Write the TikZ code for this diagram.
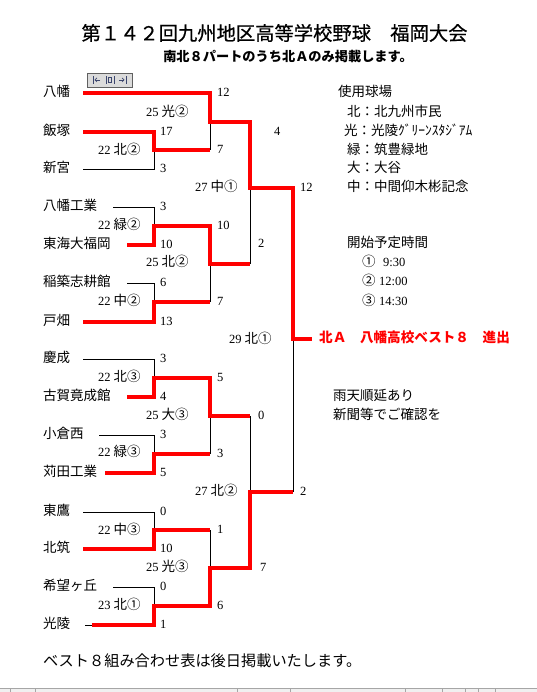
\documentclass[tikz,border=0pt]{standalone}
\usepackage{fontspec}
\usetikzlibrary{arrows.meta}
\setmainfont{Noto Sans CJK JP}
\newfontfamily\numf{Liberation Serif}
\newfontfamily\titlef{Noto Sans CJK JP}[FakeBold=0.6]
\definecolor{wred}{RGB}{255,0,0}
\definecolor{btnink}{RGB}{60,70,110}
\newcommand\mlab[2]{{\numf\fontsize{12.5}{13}\selectfont #1}\hspace{3pt}#2}
\begin{document}
\begin{tikzpicture}[x=1pt,y=-1pt,
  win/.style={draw=wred, line width=4pt, line join=miter},
  lose/.style={draw=black, line width=0.9pt},
  txt/.style={anchor=west, inner sep=0pt, text height=0.78em, text depth=0.02em, font=\fontsize{13.5}{14}\selectfont},
  num/.style={anchor=west, inner sep=0pt, text height=0.66em, text depth=0pt, font=\numf\fontsize{12.5}{13}\selectfont},
]
\useasboundingbox (0,0) rectangle (537,692);
\fill[white] (0,0) rectangle (537,692);

% title
\node[inner sep=0pt, font=\titlef\fontsize{19.3}{21}\selectfont] (title) at (274.5,33) {第１４２回九州地区高等学校野球　福岡大会};
\node[inner sep=0pt, font=\fontsize{13.2}{14}\selectfont\bfseries] (sub) at (288,57) {南北８パートのうち北Ａのみ掲載します。};

% toolbar button
\node[draw=gray!75!black, fill=gray!28, minimum width=45pt, minimum height=14pt, inner sep=0pt] (btn) at (109.5,80) {};
\draw[btnink, line width=0.7pt] (93,76) -- (93,84);
\draw[btnink, line width=0.7pt, -{Straight Barb[length=2pt]}] (100,80) -- (94.5,80);
\draw[btnink, line width=0.7pt] (106,76) -- (106,84) (114,76) -- (114,84);
\draw[btnink, line width=0.7pt] (108.5,77.5) rectangle (111.5,82.5);
\draw[btnink, line width=0.7pt] (126,76) -- (126,84);
\draw[btnink, line width=0.7pt, -{Straight Barb[length=2pt]}] (119,80) -- (124.5,80);

% teams
\foreach \n/\y/\x/\name in {1/93/83/八幡, 2/132/83/飯塚, 3/169/83/新宮, 4/207/113/八幡工業, 5/245/127/東海大福岡, 6/283/127/稲築志耕館, 7/322/83/戸畑, 8/359/83/慶成, 9/397/127/古賀竟成館, 10/435/99/小倉西, 11/473/105/苅田工業, 12/512/83/東鷹, 13/549/83/北筑, 14/587/113/希望ヶ丘, 15/625/92/光陵}{
  \node[txt] (team\n) at (43,\y) {\name};
  \coordinate (s\n) at (\x,\y);
  \coordinate (e\n) at (154,\y);
}
\coordinate (s15b) at (85,625);

% round 1 exits
\coordinate (r1a) at (154,150);
\coordinate (r1b) at (154,226);
\coordinate (r1c) at (154,302);
\coordinate (r1d) at (154,378);
\coordinate (r1e) at (154,454);
\coordinate (r1f) at (154,530);
\coordinate (r1g) at (154,606);
% round 2
\coordinate (q1t) at (210,93);  \coordinate (q1b) at (210,150); \coordinate (q1) at (210,122);
\coordinate (q2t) at (210,226); \coordinate (q2b) at (210,302); \coordinate (q2) at (210,264);
\coordinate (q3t) at (210,378); \coordinate (q3b) at (210,454); \coordinate (q3) at (210,416);
\coordinate (q4t) at (210,530); \coordinate (q4b) at (210,606); \coordinate (q4) at (210,568);
% round 3
\coordinate (p1t) at (250,122); \coordinate (p1b) at (250,264); \coordinate (p1) at (250,188);
\coordinate (p2t) at (250,416); \coordinate (p2b) at (250,568); \coordinate (p2) at (250,492);
% round 4
\coordinate (f1t) at (293,188); \coordinate (f1b) at (293,492); \coordinate (f1) at (293,339);
\coordinate (fin) at (312,339);

% losers (black)
\draw[lose] (s3) -- (e3) -- (r1a);
\draw[lose] (s4) -- (e4) -- (r1b);
\draw[lose] (s6) -- (e6) -- (r1c);
\draw[lose] (s8) -- (e8) -- (r1d);
\draw[lose] (s10) -- (e10) -- (r1e);
\draw[lose] (s12) -- (e12) -- (r1f);
\draw[lose] (s14) -- (e14) -- (r1g);
\draw[lose] (s15b) -- (s15);
\draw[lose] (q1b) -- (q1);
\draw[lose] (q2b) -- (q2);
\draw[lose] (q3b) -- (q3);
\draw[lose] (q4t) -- (q4);
\draw[lose] (p1b) -- (p1);
\draw[lose] (p2t) -- (p2);
\draw[lose] (f1b) -- (f1);

% winners (red)
\draw[win] (s1) -- (q1t) -- (q1) -- (p1t) -- (p1) -- (f1t) -- (f1) -- (fin);
\draw[win] (s2) -- (e2) -- (r1a) -- (q1b);
\draw[win] (s5) -- (e5) -- (r1b) -- (q2t) -- (q2) -- (p1b);
\draw[win] (s7) -- (e7) -- (r1c) -- (q2b);
\draw[win] (s9) -- (e9) -- (r1d) -- (q3t) -- (q3) -- (p2t);
\draw[win] (s11) -- (e11) -- (r1e) -- (q3b);
\draw[win] (s13) -- (e13) -- (r1f) -- (q4t);
\draw[win] (s15) -- (e15) -- (r1g) -- (q4b) -- (q4) -- (p2b) -- (p2) -- (f1b);

% round 1 scores
\foreach \n/\y/\v in {a/132/17, b/169/3, c/207/3, d/245/10, e/283/6, f/322/13, g/359/3, h/397/4, i/435/3, j/473/5, k/512/0, l/549/10, m/587/0, n/625/1}{
  \node[num] (sc1\n) at (160,\y) {\v};
}
% round 2 scores
\foreach \n/\y/\v in {a/93/12, b/150/7, c/226/10, d/302/7, e/378/5, f/454/3, g/530/1, h/606/6}{
  \node[num] (sc2\n) at (217,\y) {\v};
}
% round 3 / 4 scores
\node[num] (sc3a) at (274,132) {4};
\node[num] (sc3b) at (258,244) {2};
\node[num] (sc3c) at (258,416) {0};
\node[num] (sc3d) at (260,568) {7};
\node[num] (sc4a) at (300,188) {12};
\node[num] (sc4b) at (300,492) {2};

% match labels
\node[txt] (m1) at (98,151) {\mlab{22}{北②}};
\node[txt] (m2) at (98,226) {\mlab{22}{緑②}};
\node[txt] (m3) at (98,302) {\mlab{22}{中②}};
\node[txt] (m4) at (98,378) {\mlab{22}{北③}};
\node[txt] (m5) at (98,453) {\mlab{22}{緑③}};
\node[txt] (m6) at (98,531) {\mlab{22}{中③}};
\node[txt] (m7) at (98,606) {\mlab{23}{北①}};
\node[txt] (n1) at (146,113) {\mlab{25}{光②}};
\node[txt] (n2) at (146,263) {\mlab{25}{北②}};
\node[txt] (n3) at (146,416) {\mlab{25}{大③}};
\node[txt] (n4) at (146,568) {\mlab{25}{光③}};
\node[txt] (o1) at (195,188) {\mlab{27}{中①}};
\node[txt] (o2) at (195,492) {\mlab{27}{北②}};
\node[txt] (fm) at (229,340) {\mlab{29}{北①}};

% info block
\node[txt] (ib0) at (338,93) {使用球場};
\node[txt] (ib1) at (347,113) {北：北九州市民};
\node[txt] (ib2) at (344,132) {光：光陵ｸﾞﾘｰﾝｽﾀｼﾞｱﾑ};
\node[txt] (ib3) at (347,151) {緑：筑豊緑地};
\node[txt] (ib4) at (347,169) {大：大谷};
\node[txt] (ib5) at (347,188) {中：中間仰木彬記念};
\node[txt] (tt0) at (347,244) {開始予定時間};
\node[txt] (tt1) at (362,263) {①};
\node[num] (tt1v) at (383,263) {9:30};
\node[txt] (tt2) at (362,282) {②};
\node[num] (tt2v) at (379,282) {12:00};
\node[txt] (tt3) at (362,302) {③};
\node[num] (tt3v) at (379,302) {14:30};
\node[txt, text=wred, font=\fontsize{13.6}{14}\selectfont\bfseries] (result) at (319,339) {北Ａ　八幡高校ベスト８　進出};
\node[txt] (rain1) at (333,397) {雨天順延あり};
\node[txt] (rain2) at (333,416) {新聞等でご確認を};

% footer
\node[txt, font=\fontsize{15.2}{16}\selectfont] (foot) at (43,663) {ベスト８組み合わせ表は後日掲載いたします。};

% cut-off status bar
\fill[gray!12] (0,688) rectangle (537,692);
\draw[gray!70, line width=0.7pt] (0,688) -- (537,688);
\foreach \xx in {10,35,237,290,405,442,465,478,495}{
  \draw[gray!70, line width=0.7pt] (\xx,688) -- (\xx,692);
}
\end{tikzpicture}
\end{document}
